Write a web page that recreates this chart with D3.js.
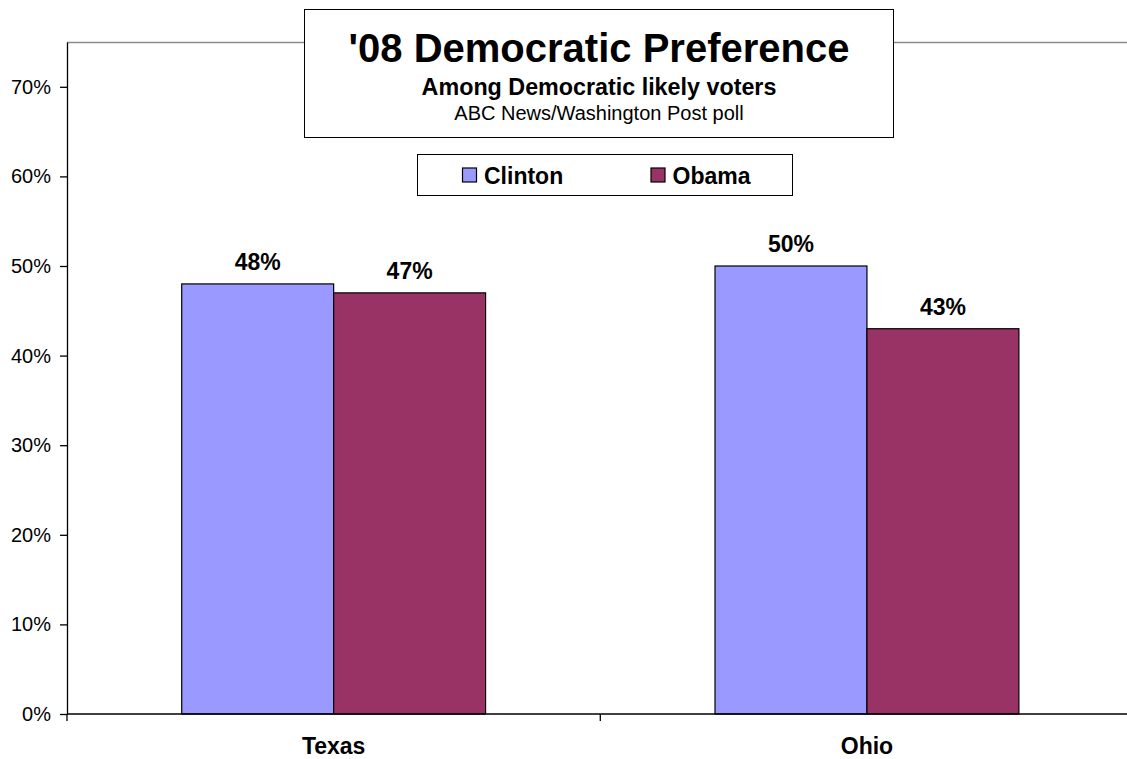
<!DOCTYPE html>
<html>
<head>
<meta charset="utf-8">
<script src="https://cdn.jsdelivr.net/npm/d3@7"></script>
<style>
  html, body { margin: 0; padding: 0; background: #fff; }
  svg { display: block; font-family: "Liberation Sans", Arial, sans-serif; }
</style>
</head>
<body>
<svg id="chart" width="1127" height="759"></svg>
<script>
// Poll results by state
const states = ["Texas", "Ohio"];
const candidates = ["Clinton", "Obama"];
const clintonValues = [0.48, 0.50];
const obamaValues = [0.47, 0.43];
const yTicks = [0, 0.1, 0.2, 0.3, 0.4, 0.5, 0.6, 0.7];
const colors = ["#9999FF", "#993366"];

const titleText = "'08 Democratic Preference";
const subtitleText = "Among Democratic likely voters";
const sourceText = "ABC News/Washington Post poll";

const seriesValues = [clintonValues, obamaValues];
const rows = states.map((s, i) => ({
  state: s,
  values: candidates.map((c, j) => ({ name: c, value: seriesValues[j][i], color: colors[j] }))
}));

const svg = d3.select("#chart");
const plot = { left: 67, right: 1133.6, top: 42, bottom: 714 };

const x = d3.scaleBand().domain(states).range([plot.left, plot.right]).paddingInner(0).paddingOuter(0);
const xInner = d3.scaleBand().domain(candidates).range([0, x.bandwidth()]).paddingInner(0).paddingOuter(0.755);
const y = d3.scaleLinear().domain([0, 0.75]).range([plot.bottom, plot.top]);

// plot area top border
svg.append("line")
  .attr("x1", plot.left).attr("x2", 1127)
  .attr("y1", plot.top + 0.5).attr("y2", plot.top + 0.5)
  .attr("stroke", "#8c8c8c").attr("stroke-width", 1.5);

// bars
const groups = svg.append("g").selectAll("g").data(rows).join("g")
  .attr("transform", d => `translate(${x(d.state)},0)`);

groups.selectAll("rect").data(d => d.values).join("rect")
  .attr("x", d => xInner(d.name))
  .attr("y", d => y(d.value))
  .attr("width", xInner.bandwidth())
  .attr("height", d => y(0) - y(d.value))
  .attr("fill", d => d.color)
  .attr("stroke", "#000")
  .attr("stroke-width", 1.2);

groups.selectAll("text").data(d => d.values).join("text")
  .attr("x", d => xInner(d.name) + xInner.bandwidth() / 2)
  .attr("y", d => y(d.value) - 14)
  .attr("text-anchor", "middle")
  .attr("font-size", 23).attr("font-weight", "bold").attr("fill", "#000")
  .text(d => d3.format(".0%")(d.value));

// y axis
const yAxis = svg.append("g")
  .attr("transform", `translate(${plot.left},0)`)
  .call(d3.axisLeft(y).tickValues(yTicks).tickFormat(d3.format(".0%")).tickSize(7).tickPadding(9).tickSizeOuter(0));
yAxis.select(".domain").attr("stroke", "#000").attr("stroke-width", 1.3);
yAxis.selectAll(".tick line").attr("stroke", "#000").attr("stroke-width", 1.3);
yAxis.selectAll(".tick text").attr("font-size", 20).attr("fill", "#000").attr("font-family", "'Liberation Sans', Arial, sans-serif");

// x axis with ticks at category boundaries
const xAxisG = svg.append("g").attr("transform", `translate(0,${plot.bottom})`);
xAxisG.append("line")
  .attr("x1", plot.left).attr("x2", 1127).attr("y1", 0).attr("y2", 0)
  .attr("stroke", "#000").attr("stroke-width", 1.3);
const boundaries = states.map(s => x(s)).concat([x(states[states.length - 1]) + x.bandwidth()]);
xAxisG.selectAll("line.bt").data(boundaries).join("line")
  .attr("class", "bt")
  .attr("x1", d => d).attr("x2", d => d).attr("y1", 0).attr("y2", 7)
  .attr("stroke", "#000").attr("stroke-width", 1.3);
xAxisG.selectAll("text").data(states).join("text")
  .attr("x", d => x(d) + x.bandwidth() / 2)
  .attr("y", 39.5)
  .attr("text-anchor", "middle")
  .attr("font-size", 23).attr("font-weight", "bold").attr("fill", "#000")
  .text(d => d);

// title box
const tb = svg.append("g");
tb.append("rect").attr("x", 304.5).attr("y", 9.5).attr("width", 589).attr("height", 128)
  .attr("fill", "#fff").attr("stroke", "#000").attr("stroke-width", 1);
tb.append("text").attr("x", 599).attr("y", 62).attr("text-anchor", "middle")
  .attr("font-size", 40).attr("font-weight", "bold").text(titleText);
tb.append("text").attr("x", 599).attr("y", 94.5).attr("text-anchor", "middle")
  .attr("font-size", 23.3).attr("font-weight", "bold").text(subtitleText);
tb.append("text").attr("x", 599).attr("y", 119.5).attr("text-anchor", "middle")
  .attr("font-size", 20).text(sourceText);

// legend
const lg = svg.append("g");
lg.append("rect").attr("x", 417.5).attr("y", 154.5).attr("width", 375).attr("height", 41)
  .attr("fill", "#fff").attr("stroke", "#000").attr("stroke-width", 1);
const legendX = [462.5, 651];
const items = lg.selectAll("g").data(candidates).join("g")
  .attr("transform", (d, i) => `translate(${legendX[i]},168)`);
items.append("rect").attr("x", 0).attr("y", 0).attr("width", 14).attr("height", 14)
  .attr("fill", (d, i) => colors[i]).attr("stroke", "#000").attr("stroke-width", 1.2);
items.append("text").attr("x", 21.5).attr("y", 16)
  .attr("font-size", 23).attr("font-weight", "bold").text(d => d);
</script>
</body>
</html>
